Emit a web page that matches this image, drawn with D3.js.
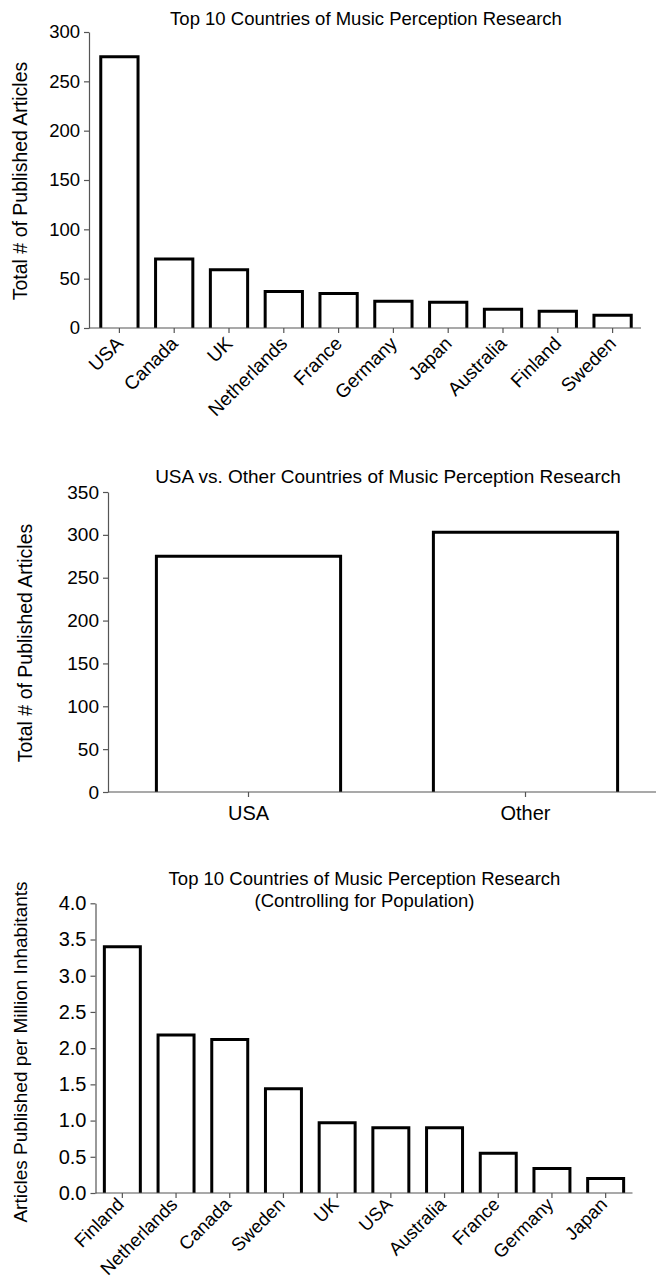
<!DOCTYPE html>
<html><head><meta charset="utf-8">
<script src="https://cdn.jsdelivr.net/npm/d3@7"></script>
<style>
html,body{margin:0;padding:0;background:#fff;}
svg{display:block;}
text{font-family:"Liberation Sans",Arial,Helvetica,sans-serif;fill:#000;}
</style>
</head><body><svg id="chart"></svg>
<script>
// ---------- data ----------
const title1 = ["Top 10 Countries of Music Perception Research"];
const yTitle1 = "Total # of Published Articles";
const countries1 = ["USA","Canada","UK","Netherlands","France","Germany","Japan","Australia","Finland","Sweden"];
const articles1 = [275,70,59,37,35,27,26,19,17,13];
const ticks1 = [0,50,100,150,200,250,300];

const title2 = ["USA vs. Other Countries of Music Perception Research"];
const yTitle2 = "Total # of Published Articles";
const groups2 = ["USA","Other"];
const articles2 = [275,303];
const ticks2 = [0,50,100,150,200,250,300,350];

const title3 = ["Top 10 Countries of Music Perception Research","(Controlling for Population)"];
const yTitle3 = "Articles Published per Million Inhabitants";
const countries3 = ["Finland","Netherlands","Canada","Sweden","UK","USA","Australia","France","Germany","Japan"];
const perMillion3 = [3.40,2.18,2.12,1.44,0.97,0.90,0.90,0.55,0.34,0.20];
const ticks3 = [0,0.5,1.0,1.5,2.0,2.5,3.0,3.5,4.0];

// ---------- layout ----------
const W = 657, H = 1283;
const svg = d3.select("#chart").attr("width", W).attr("height", H);
const AXIS_COLOR = "#555";

function drawChart(o) {
  const g = svg.append("g");
  const x = d3.scaleBand().domain(o.cats).range([o.bandL, o.bandR])
    .paddingInner(o.pad).paddingOuter(o.pad / 2);
  const y = d3.scaleLinear().domain([0, o.ymax]).range([o.y0, o.yTop]);

  // bars (open at the bottom, sitting on the axis)
  g.append("g").selectAll("path")
    .data(o.cats.map((c, i) => ({ c, v: o.vals[i] })))
    .join("path")
    .attr("d", d => {
      const x0 = x(d.c), x1 = x0 + x.bandwidth();
      return `M${x0},${y(0)}V${y(d.v)}H${x1}V${y(0)}`;
    })
    .attr("fill", "#fff").attr("stroke", "#000")
    .attr("stroke-width", 3).attr("stroke-linejoin", "miter");

  // y axis
  const yg = g.append("g").attr("transform", `translate(${o.axisX},0)`)
    .call(d3.axisLeft(y).tickValues(o.ticks).tickFormat(o.fmt)
      .tickSize(5).tickSizeOuter(0).tickPadding(4));
  yg.attr("font-family", null).attr("font-size", null);
  yg.selectAll("path,line").attr("stroke", AXIS_COLOR).attr("stroke-width", 1.2);
  yg.selectAll("text").style("font-size", o.tickFont + "px");

  // x axis
  const xg = g.append("g").attr("transform", `translate(0,${y(0)})`)
    .call(d3.axisBottom(x).tickSize(5).tickSizeOuter(0).tickPadding(o.xPad || 3));
  xg.attr("font-family", null).attr("font-size", null);
  xg.select(".domain").remove();
  xg.selectAll("line").attr("stroke", AXIS_COLOR).attr("stroke-width", 1.2);
  xg.selectAll("text").style("font-size", o.xFont + "px");
  if (o.rotate) {
    xg.selectAll("text")
      .attr("x", 0).attr("y", 0).attr("dy", "0.35em")
      .attr("text-anchor", "end")
      .attr("transform", `translate(${o.lblDx},${o.lblDy}) rotate(-45)`);
  }
  g.append("line")
    .attr("x1", o.axisX).attr("x2", o.xEnd)
    .attr("y1", y(0)).attr("y2", y(0))
    .attr("stroke", AXIS_COLOR).attr("stroke-width", 1.2);

  // title
  o.title.forEach((t, i) => {
    g.append("text").attr("x", o.titleX).attr("y", o.titleY + i * o.titleLH)
      .attr("text-anchor", "middle").style("font-size", o.titleFont + "px").text(t);
  });

  // y title
  g.append("text")
    .attr("transform", `translate(${o.yTitleX},${o.yTitleCY}) rotate(-90)`)
    .attr("text-anchor", "middle").style("font-size", o.yTitleFont + "px")
    .text(o.yTitle);
}

drawChart({
  cats: countries1, vals: articles1, ticks: ticks1, fmt: d3.format("d"), ymax: 300,
  bandL: 92, bandR: 640, pad: 0.32, axisX: 89, xEnd: 641,
  y0: 328, yTop: 32, tickFont: 18.5, xFont: 19, rotate: true, lblDx: 0, lblDy: 12,
  title: title1, titleX: 366, titleY: 25, titleLH: 22, titleFont: 18.5,
  yTitle: yTitle1, yTitleX: 27, yTitleCY: 181, yTitleFont: 19.5
});

drawChart({
  cats: groups2, vals: articles2, ticks: ticks2, fmt: d3.format("d"), ymax: 350,
  bandL: 110, bandR: 664, pad: 0.335, axisX: 108, xEnd: 656,
  y0: 792, yTop: 492, tickFont: 19, xFont: 20, rotate: false, xPad: 9,
  title: title2, titleX: 388, titleY: 483, titleLH: 22, titleFont: 19,
  yTitle: yTitle2, yTitleX: 32, yTitleCY: 643, yTitleFont: 19.5
});

drawChart({
  cats: countries3, vals: perMillion3, ticks: ticks3, fmt: d3.format(".1f"), ymax: 4,
  bandL: 95.5, bandR: 632.5, pad: 0.33, axisX: 95.5, xEnd: 632.5,
  y0: 1193, yTop: 903.3, tickFont: 20, xFont: 18.5, rotate: true, lblDx: -2, lblDy: 8,
  title: title3, titleX: 364.5, titleY: 885, titleLH: 22, titleFont: 18.5,
  yTitle: yTitle3, yTitleX: 27, yTitleCY: 1052, yTitleFont: 19
});
</script>
</body></html>
